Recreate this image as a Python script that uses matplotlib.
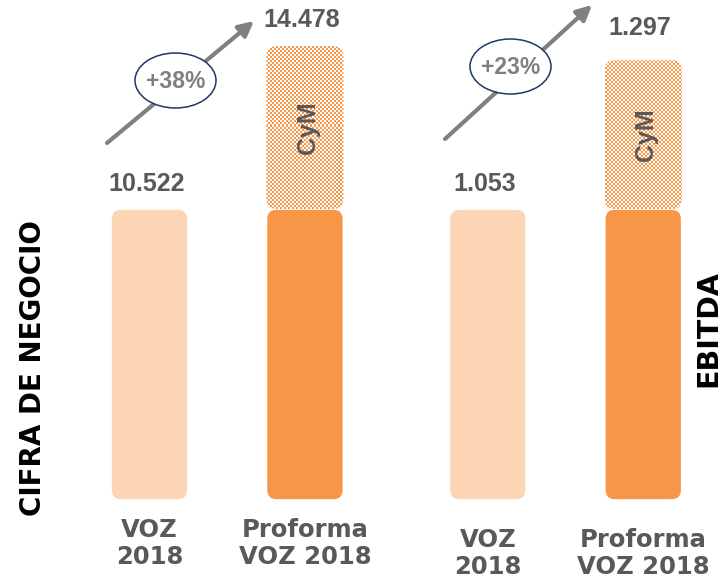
import numpy as np
import matplotlib.pyplot as plt
from matplotlib.patches import FancyBboxPatch, Ellipse

# data
categories = ['VOZ\n2018', 'Proforma\nVOZ 2018']
cifra = [10.522, 14.478]
ebitda = [1.053, 1.297]
cifra_labels = ['10.522', '14.478']
ebitda_labels = ['1.053', '1.297']
growth = ['+38%', '+23%']
panel_titles = ['CIFRA DE NEGOCIO', 'EBITDA']
segment_name = 'CyM'

LIGHT = '#FCD5B5'
ORANGE = '#F79646'
GREY = '#595959'
W, H = 718, 578

fig = plt.figure(figsize=(W / 100, H / 100), dpi=100)


def px(v):
    # pixels -> points at dpi 100
    return v * 0.72


def rounded(ax, rect, color, radius_px=10):
    # swap a plain bar rectangle for a rounded one of the same size
    bb = ax.get_position()
    xupp = (ax.get_xlim()[1] - ax.get_xlim()[0]) / (bb.width * W)
    yupp = (ax.get_ylim()[1] - ax.get_ylim()[0]) / (bb.height * H)
    p = FancyBboxPatch((rect.get_x(), rect.get_y()), rect.get_width(), rect.get_height(),
                       boxstyle='round,pad=0,rounding_size=%f' % (radius_px * xupp),
                       mutation_aspect=yupp / xupp, fc=color, ec='white', lw=1.2)
    ax.add_patch(p)
    rect.set_visible(False)
    return p, xupp, yupp


def checker(ax, patch, rect, xupp, yupp):
    # 2px checkerboard, clipped to the rounded bar
    x0, y0 = rect.get_x(), rect.get_y()
    nx = int(np.ceil(rect.get_width() / xupp / 2)) + 1
    ny = int(np.ceil(rect.get_height() / yupp / 2)) + 1
    board = np.add.outer(np.arange(ny), np.arange(nx)) % 2
    img = np.ones((ny, nx, 4))
    img[board == 1, :3] = np.array([0xF7, 0x96, 0x46]) / 255
    im = ax.imshow(img, extent=(x0, x0 + 2 * nx * xupp, y0, y0 + 2 * ny * yupp),
                   aspect='auto', interpolation='nearest', zorder=2)
    im.set_clip_path(patch)


def panel(left_px, ylim, baseline, values, labels, label_off, cat_off):
    ax = fig.add_axes([left_px / W, 0, 342 / W, 1])
    ax.set_xlim(-0.6, 1.6)
    ax.set_ylim(*ylim)
    ax.axis('off')
    x = np.arange(len(values))
    base = ax.bar(x, [values[0] - baseline] * 2, bottom=baseline, width=0.495)
    top = ax.bar([1], [values[1] - values[0]], bottom=values[0], width=0.495)
    rounded(ax, base[0], LIGHT)
    rounded(ax, base[1], ORANGE)
    p, xupp, yupp = rounded(ax, top[0], 'none')
    p.set_edgecolor('none')
    checker(ax, p, top[0], xupp, yupp)
    ax.set_xlim(-0.6, 1.6)
    ax.set_ylim(*ylim)
    ax.text(1.02, values[0] + (values[1] - values[0]) * 0.5, segment_name, rotation=90,
            ha='center', va='center', fontsize=18, fontweight='bold',
            color=GREY, family='Liberation Sans', zorder=5)
    for i, v in enumerate(values):
        ax.annotate(labels[i], (i, v), xytext=(-px(3), px(label_off[i])), textcoords='offset points',
                    ha='center', va='center', fontsize=18, fontweight='bold',
                    color=GREY, family='Liberation Sans')
        ax.annotate(categories[i], (i, baseline), xytext=(0, -px(cat_off)), textcoords='offset points',
                    ha='center', va='center', fontsize=17.5, fontweight='bold',
                    color=GREY, family='DejaVu Sans', linespacing=1.2)
    return ax


panel(56.2, (1.566, 15.595), 3.459, cifra, cifra_labels, [25, 26], 43.5)
panel(394.5, (0.4487, 1.3953), 0.5765, ebitda, ebitda_labels, [25, 32], 53.5)

# overlay for arrows, ellipses and side titles (image pixel coords)
ov = fig.add_axes([0, 0, 1, 1])
ov.set_xlim(0, W)
ov.set_ylim(H, 0)
ov.axis('off')

arrows = [((107, 143), (254, 21)), ((445, 139), (592, 5))]
bubbles = [(175.5, 80.5), (510.5, 66.5)]
for (s, e), c, g in zip(arrows, bubbles, growth):
    ov.annotate('', xy=e, xytext=s,
                arrowprops=dict(arrowstyle='-|>,head_length=0.9,head_width=0.45',
                                color='#808080', lw=3, shrinkA=0, shrinkB=0))
    ov.add_patch(Ellipse(c, 81, 55, fc='white', ec='#1F3864', lw=1.1, zorder=3))
    ov.text(c[0], c[1] + 1, g, ha='center', va='center', fontsize=16.5, fontweight='bold',
            color='#808080', family='Liberation Sans', zorder=4)

ov.text(33.5, 368, panel_titles[0], rotation=90, ha='center', va='center',
        fontsize=20, fontweight='bold', color='black', family='DejaVu Sans')
# the reference crops this title at the right edge
ov.text(708, 329, panel_titles[1], rotation=90, ha='center', va='center',
        fontsize=20.5, fontweight='bold', color='black', family='DejaVu Sans')

fig.savefig('out.png', dpi=100)
